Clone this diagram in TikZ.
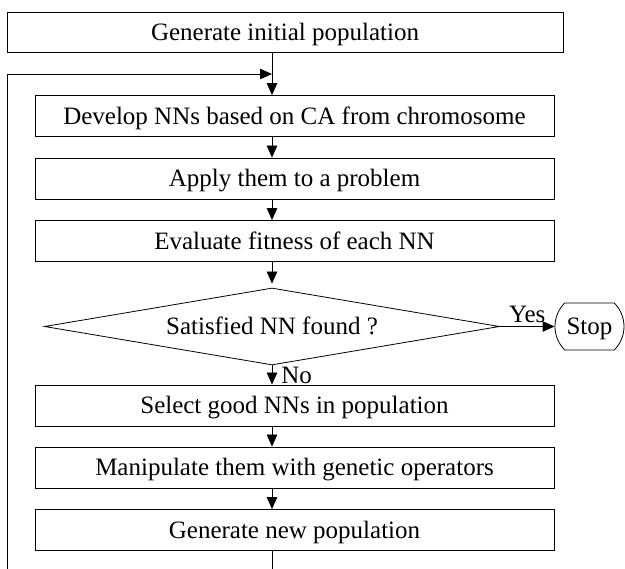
\documentclass[tikz,border=0pt]{standalone}
\usepackage{fontspec}
\setmainfont{Liberation Serif}
\usetikzlibrary{arrows.meta,shapes.geometric,shapes.misc}
\begin{document}
\begin{tikzpicture}[x=1pt,y=-1pt,
  every node/.style={font=\fontsize{25}{29}\selectfont},
  txt/.style={text height=21pt, text depth=4pt},
  box/.style={draw, line width=0.8pt, minimum width=519pt, minimum height=41pt, inner sep=0pt, txt},
  conn/.style={line width=0.8pt, -{Triangle[length=12pt,width=10.5pt]}},
  plain/.style={line width=0.8pt}]
\useasboundingbox (0,0) rectangle (625,569);
\coordinate (ax) at (272,0);
\node[box, minimum width=556pt, minimum height=39.5pt] (init) at (285,32.5) {Generate initial population};
\node[box] (dev) at (294.5,116) {Develop NNs based on CA from chromosome};
\node[box] (apply) at (294.5,178.5) {Apply them to a problem};
\node[box] (eval) at (294.5,241) {Evaluate fitness of each NN};
\node[draw, diamond, aspect=5.9, minimum width=455pt, minimum height=77pt, inner sep=0pt, line width=0.8pt, txt] (dec) at (272,326.5) {Satisfied NN found ?};
\node[draw, rounded rectangle, rounded rectangle arc length=90, minimum width=69pt, minimum height=47pt, inner sep=0pt, line width=0.8pt, txt] (stop) at (589.5,326.5) {Stop};
\node[box] (select) at (294.5,405.5) {Select good NNs in population};
\node[box] (manip) at (294.5,467.5) {Manipulate them with genetic operators};
\node[box] (newpop) at (294.5,530) {Generate new population};
\coordinate (fbl) at (7.5,569);
\coordinate (fbt) at (7.5,74);
\coordinate (bot) at (272,569);
\draw[conn] (init.south -| ax) -- (dev.north -| ax);
\draw[conn] (fbl) -- (fbt) -- (fbt -| ax);
\draw[conn] (dev.south -| ax) -- (apply.north -| ax);
\draw[conn] (apply.south -| ax) -- (eval.north -| ax);
\draw[conn, shorten >=4pt] (eval.south -| ax) -- (dec.north);
\draw[conn] (dec.south) -- node[anchor=west, inner sep=0pt, xshift=9pt, pos=0.5] {No} (select.north -| ax);
\draw[conn] (dec.east) -- node[above, inner sep=3pt] {Yes} (stop.west);
\draw[conn] (select.south -| ax) -- (manip.north -| ax);
\draw[conn] (manip.south -| ax) -- (newpop.north -| ax);
\draw[plain] (newpop.south -| ax) -- (bot);
\end{tikzpicture}
\end{document}
